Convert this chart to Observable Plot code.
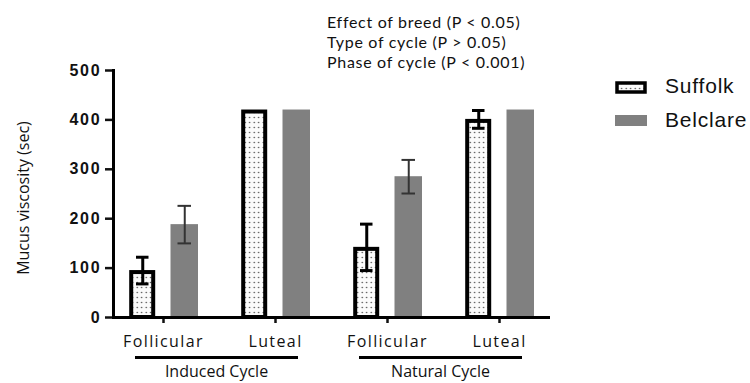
<!DOCTYPE html>
<html>
<head>
<meta charset="utf-8">
<script src="https://cdn.jsdelivr.net/npm/d3@7"></script>
<script src="https://cdn.jsdelivr.net/npm/@observablehq/plot@0.6"></script>
<style>
  html, body { margin: 0; padding: 0; background: #fff; }
  #wrap { position: relative; width: 750px; height: 383px; overflow: hidden; }
  #stats { position: absolute; left: 327px; top: 12px; font-family: Lato, "Open Sans", sans-serif; font-size: 16px; line-height: 20px; letter-spacing: 0.7px; color: #111; }
  #legend { position: absolute; left: 615px; top: 70px; font-family: "Liberation Sans", Arial, sans-serif; font-size: 21px; color: #111; letter-spacing: 0.8px; }
  .li { position: absolute; left: 0; white-space: nowrap; }
  .li svg { position: absolute; left: 0; }
  .li span { position: absolute; left: 50px; line-height: 24px; }
  g[aria-label="y-axis tick label"] text { letter-spacing: 1.8px; }
  g[aria-label="x-axis tick label"] text { letter-spacing: 1.4px; }
</style>
</head>
<body>
<svg width="0" height="0" style="position:absolute">
  <defs>
    <pattern id="dots" width="4.5" height="5" patternUnits="userSpaceOnUse">
      <rect width="4.5" height="5" fill="#fbfbfb"></rect>
      <circle cx="2.2" cy="2.5" r="0.75" fill="#444"></circle>
    </pattern>
  </defs>
</svg>
<div id="wrap"></div>
<script>
// ---- data ----
const cycles = ["Induced Cycle", "Induced Cycle", "Natural Cycle", "Natural Cycle"];
const phases = ["Follicular", "Luteal", "Follicular", "Luteal"];
const suffolkMean = [95, 420, 142, 401];
const suffolkErr = [27, 0, 47, 18];
const belclareMean = [188, 420, 285, 420];
const belclareErr = [38, 0, 34, 0];
const yTicks = [0, 100, 200, 300, 400, 500];
const yLabel = "Mucus viscosity (sec)";
const breeds = ["Suffolk", "Belclare"];
const statsLines = ["Effect of breed (P < 0.05)", "Type of cycle (P > 0.05)", "Phase of cycle (P < 0.001)"];

// ---- tables ----
const keys = cycles.map((c, i) => c + "|" + phases[i]);
const suffolk = keys.map((k, i) => ({key: k, mean: suffolkMean[i], err: suffolkErr[i]}));
const belclare = keys.map((k, i) => ({key: k, mean: belclareMean[i], err: belclareErr[i]}));
const cycleNames = Array.from(new Set(cycles));
const cycleSpans = cycleNames.map(c => ({
  name: c,
  first: keys[cycles.indexOf(c)],
  last: keys[cycles.lastIndexOf(c)]
}));
const phaseOf = Object.fromEntries(keys.map((k, i) => [k, phases[i]]));

const sErr = suffolk.filter(d => d.err > 0);
const bErr = belclare.filter(d => d.err > 0);

const chart = Plot.plot({
  width: 750,
  height: 383,
  marginLeft: 113,
  marginRight: 200,
  marginTop: 70,
  marginBottom: 66,
  style: {fontFamily: "'Open Sans', sans-serif", fontSize: "16px", background: "white", color: "#111"},
  x: {domain: keys, range: [106, 556], padding: 0},
  y: {domain: [0, 500]},
  marks: [
    // Belclare bars
    Plot.barY(belclare, {x: "key", y: "mean", fill: "#808080", insetLeft: 63.5, insetRight: 21}),
    // Suffolk bars
    Plot.barY(suffolk, {x: "key", y: "mean", fill: "url(#dots)", stroke: "#000", strokeWidth: 4,
      insetLeft: 24.2, insetRight: 65.8, insetTop: 2}),
    // Belclare error bars
    Plot.ruleX(bErr, {x: "key", y1: d => d.mean - d.err, y2: d => d.mean + d.err, dx: 21.25, stroke: "#333", strokeWidth: 2}),
    Plot.tickY(bErr, {x: "key", y: d => d.mean + d.err, stroke: "#333", strokeWidth: 2, insetLeft: 70.5, insetRight: 28}),
    Plot.tickY(bErr, {x: "key", y: d => d.mean - d.err, stroke: "#333", strokeWidth: 2, insetLeft: 70.5, insetRight: 28}),
    // Suffolk error bars
    Plot.ruleX(sErr, {x: "key", y1: d => d.mean - d.err, y2: d => d.mean + d.err, dx: -20.75, stroke: "#000", strokeWidth: 3}),
    Plot.tickY(sErr, {x: "key", y: d => d.mean + d.err, stroke: "#000", strokeWidth: 3, insetLeft: 29, insetRight: 70.5}),
    Plot.tickY(sErr, {x: "key", y: d => d.mean - d.err, stroke: "#000", strokeWidth: 3, insetLeft: 29, insetRight: 70.5}),
    // axes
    Plot.axisY({ticks: yTicks, tickSize: 8, tickPadding: 4, strokeWidth: 2.5, fontSize: 16, fontWeight: "bold",
      fontFamily: "'Liberation Sans', Arial, sans-serif", label: null}),
    Plot.axisX({tickSize: 6, tickPadding: 12, strokeWidth: 2.5, fontSize: 16, tickFormat: k => phaseOf[k], label: null}),
    Plot.ruleY([0], {strokeWidth: 3, stroke: "#000"}),
    Plot.frame({anchor: "left", strokeWidth: 3, stroke: "#000"}),
    Plot.text([yLabel], {frameAnchor: "left", text: d => d, rotate: -90, textAnchor: "middle", dx: -90, dy: 4, fontSize: 16}),
    // cycle underlines and labels
    Plot.ruleY(cycleSpans, {x1: "first", x2: "last", y: () => 0, dy: 40, strokeWidth: 3, stroke: "#000", insetLeft: 28, insetRight: 33}),
    Plot.text(cycleSpans, {x: "first", y: () => 0, text: "name", dx: 53, dy: 54, fontSize: 16})
  ]
});

const wrap = document.getElementById("wrap");
wrap.appendChild(chart);

// stats annotation
const stats = document.createElement("div");
stats.id = "stats";
stats.innerHTML = statsLines.map(s => `<div>${s.replace(/</g, "&lt;").replace(/>/g, "&gt;")}</div>`).join("");
wrap.appendChild(stats);

// legend
const legend = document.createElement("div");
legend.id = "legend";
const swatches = [
  `<svg width="32" height="13"><rect x="2" y="2" width="28" height="9" fill="url(#dots)" stroke="#000" stroke-width="3.5"></rect></svg>`,
  `<svg width="32" height="11"><rect x="0" y="0" width="32" height="11" fill="#808080"></rect></svg>`
];
const swTop = [11, 45];
const txTop = [4, 38];
breeds.forEach((b, i) => {
  const row = document.createElement("div");
  row.className = "li";
  row.innerHTML = swatches[i].replace("<svg ", `<svg style="top:${swTop[i]}px" `) + `<span style="top:${txTop[i]}px">${b}</span>`;
  legend.appendChild(row);
});
wrap.appendChild(legend);
</script>
</body>
</html>
